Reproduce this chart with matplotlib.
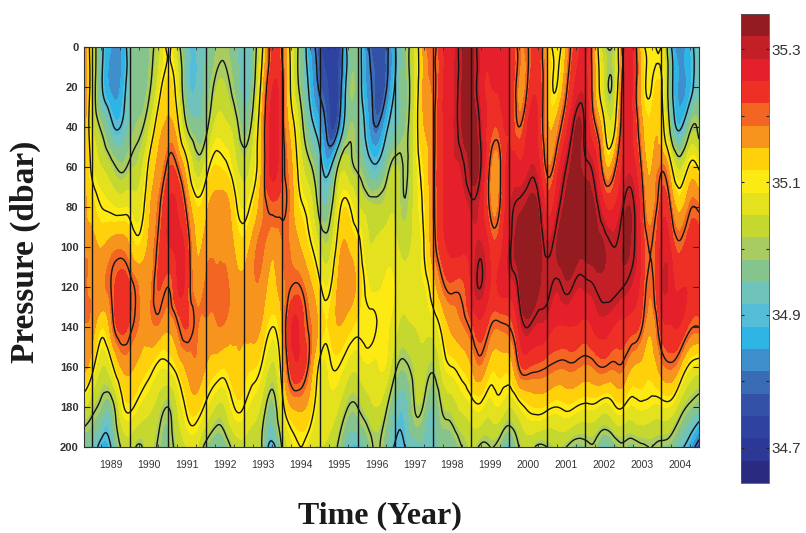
import matplotlib
matplotlib.use('Agg')
import matplotlib.pyplot as plt
import matplotlib.tri as mtri
import numpy as np
from matplotlib.ticker import MultipleLocator

pressure = [0, 20, 40, 60, 80, 100, 120, 140, 160, 180, 200]
times = np.arange(1988.75, 2005.01, 0.25)
year_lines = list(range(1989, 2005))
year_labels = [str(y) for y in year_lines]
contour_values = [34.8, 34.9, 35.0, 35.1, 35.2, 35.3]
cbar_ticks = [34.7, 34.8, 34.9, 35.0, 35.1, 35.2, 35.3]
cbar_labels = ['34.7', '', '34.9', '', '35.1', '', '35.3']

# one profile per quarter year, surface to 200 dbar
profiles = [
    [35.22, 35.22, 35.21, 35.19, 35.17, 35.17, 35.19, 35.18, 35.16, 35.06, 34.95],
    [35.06, 35.06, 35.06, 35.09, 35.13, 35.17, 35.18, 35.17, 35.12, 35.02, 34.94],
    [34.92, 34.91, 34.99, 35.05, 35.10, 35.15, 35.18, 35.12, 35.05, 34.98, 34.87],
    [34.85, 34.84, 34.92, 35.02, 35.09, 35.17, 35.20, 35.17, 35.08, 34.97, 34.90],
    [34.84, 34.85, 34.90, 34.99, 35.08, 35.18, 35.24, 35.23, 35.15, 35.07, 35.00],
    [34.94, 34.94, 34.96, 35.01, 35.08, 35.15, 35.22, 35.21, 35.16, 35.11, 35.03],
    [34.97, 34.97, 34.99, 35.03, 35.07, 35.12, 35.18, 35.18, 35.14, 35.08, 34.99],
    [34.98, 34.99, 35.04, 35.11, 35.14, 35.16, 35.17, 35.17, 35.12, 35.06, 35.03],
    [35.03, 35.07, 35.13, 35.16, 35.19, 35.21, 35.22, 35.18, 35.09, 35.03, 34.99],
    [35.11, 35.13, 35.16, 35.21, 35.25, 35.25, 35.20, 35.16, 35.09, 35.00, 34.97],
    [35.03, 35.07, 35.12, 35.20, 35.25, 35.26, 35.25, 35.19, 35.12, 35.05, 35.02],
    [34.93, 34.94, 35.00, 35.12, 35.19, 35.23, 35.23, 35.22, 35.16, 35.11, 35.05],
    [34.92, 34.92, 34.96, 35.03, 35.12, 35.15, 35.17, 35.19, 35.18, 35.13, 35.06],
    [34.95, 34.96, 34.98, 35.07, 35.14, 35.17, 35.19, 35.18, 35.15, 35.09, 34.98],
    [34.98, 35.01, 35.06, 35.12, 35.17, 35.18, 35.19, 35.18, 35.13, 35.05, 34.95],
    [34.99, 35.02, 35.06, 35.11, 35.17, 35.18, 35.19, 35.18, 35.12, 35.05, 34.96],
    [34.96, 34.98, 35.03, 35.07, 35.12, 35.15, 35.17, 35.16, 35.14, 35.10, 35.02],
    [34.92, 34.93, 34.97, 35.03, 35.08, 35.13, 35.16, 35.16, 35.13, 35.10, 35.04],
    [34.96, 34.98, 35.03, 35.07, 35.12, 35.17, 35.18, 35.17, 35.12, 35.07, 35.03],
    [35.10, 35.14, 35.17, 35.17, 35.18, 35.19, 35.17, 35.14, 35.09, 35.03, 34.99],
    [35.23, 35.25, 35.27, 35.27, 35.21, 35.16, 35.14, 35.10, 35.04, 34.97, 34.87],
    [35.20, 35.22, 35.22, 35.22, 35.21, 35.18, 35.17, 35.15, 35.12, 35.07, 35.00],
    [35.08, 35.09, 35.13, 35.16, 35.17, 35.18, 35.20, 35.25, 35.23, 35.15, 35.07],
    [34.97, 34.98, 35.03, 35.07, 35.11, 35.15, 35.20, 35.24, 35.24, 35.16, 35.10],
    [34.85, 34.88, 34.93, 35.01, 35.07, 35.11, 35.16, 35.19, 35.18, 35.13, 35.06],
    [34.76, 34.79, 34.86, 34.93, 34.98, 35.05, 35.11, 35.14, 35.09, 35.07, 35.05],
    [34.72, 34.74, 34.76, 34.88, 34.97, 35.03, 35.09, 35.12, 35.09, 35.07, 35.04],
    [34.72, 34.75, 34.80, 35.01, 35.08, 35.13, 35.16, 35.15, 35.10, 35.05, 34.99],
    [34.94, 34.95, 34.97, 35.03, 35.11, 35.15, 35.17, 35.13, 35.07, 35.00, 34.92],
    [34.95, 34.95, 34.96, 34.99, 35.06, 35.12, 35.14, 35.11, 35.06, 35.00, 34.91],
    [34.82, 34.84, 34.87, 34.94, 35.03, 35.06, 35.09, 35.11, 35.08, 35.03, 34.96],
    [34.75, 34.77, 34.80, 34.91, 35.02, 35.06, 35.08, 35.10, 35.08, 35.05, 35.01],
    [34.78, 34.79, 34.88, 34.97, 35.03, 35.07, 35.09, 35.09, 35.08, 35.01, 34.96],
    [34.90, 34.91, 34.94, 35.02, 35.04, 35.06, 35.08, 35.06, 35.01, 34.94, 34.89],
    [34.97, 34.97, 34.98, 34.995, 35.005, 35.04, 35.06, 35.04, 34.99, 34.93, 34.90],
    [35.05, 35.05, 35.06, 35.06, 35.06, 35.06, 35.07, 35.05, 35.02, 35.00, 34.93],
    [35.17, 35.16, 35.15, 35.12, 35.11, 35.10, 35.08, 35.06, 35.03, 34.99, 34.94],
    [35.19, 35.19, 35.19, 35.19, 35.19, 35.18, 35.13, 35.07, 35.01, 34.95, 34.92],
    [35.25, 35.25, 35.25, 35.25, 35.25, 35.24, 35.19, 35.12, 35.07, 35.01, 34.96],
    [35.27, 35.28, 35.28, 35.28, 35.27, 35.26, 35.21, 35.16, 35.10, 35.03, 34.95],
    [35.32, 35.32, 35.32, 35.29, 35.27, 35.26, 35.21, 35.18, 35.12, 35.06, 35.00],
    [35.33, 35.33, 35.34, 35.33, 35.29, 35.27, 35.26, 35.21, 35.15, 35.08, 35.02],
    [35.27, 35.27, 35.29, 35.30, 35.27, 35.29, 35.30, 35.24, 35.18, 35.09, 34.99],
    [35.27, 35.25, 35.23, 35.19, 35.19, 35.24, 35.25, 35.20, 35.13, 35.07, 35.00],
    [35.28, 35.26, 35.23, 35.19, 35.20, 35.24, 35.26, 35.19, 35.13, 35.08, 34.97],
    [35.25, 35.25, 35.25, 35.27, 35.28, 35.29, 35.27, 35.20, 35.13, 35.05, 34.93],
    [35.19, 35.18, 35.20, 35.26, 35.31, 35.34, 35.31, 35.26, 35.20, 35.08, 35.00],
    [35.20, 35.21, 35.26, 35.28, 35.33, 35.37, 35.38, 35.30, 35.22, 35.11, 35.03],
    [35.24, 35.24, 35.25, 35.27, 35.32, 35.35, 35.33, 35.28, 35.21, 35.12, 34.99],
    [35.14, 35.15, 35.16, 35.19, 35.24, 35.29, 35.31, 35.27, 35.20, 35.11, 35.00],
    [35.08, 35.10, 35.17, 35.23, 35.28, 35.32, 35.29, 35.25, 35.19, 35.10, 35.02],
    [35.16, 35.19, 35.24, 35.30, 35.33, 35.35, 35.31, 35.25, 35.19, 35.11, 35.00],
    [35.23, 35.26, 35.32, 35.33, 35.34, 35.34, 35.29, 35.25, 35.19, 35.10, 34.97],
    [35.27, 35.27, 35.29, 35.31, 35.33, 35.33, 35.29, 35.24, 35.18, 35.09, 34.98],
    [35.15, 35.16, 35.21, 35.28, 35.32, 35.33, 35.30, 35.26, 35.19, 35.09, 34.99],
    [35.02, 35.04, 35.11, 35.17, 35.26, 35.32, 35.31, 35.27, 35.20, 35.07, 34.93],
    [35.01, 35.02, 35.08, 35.18, 35.25, 35.30, 35.31, 35.25, 35.19, 35.09, 34.96],
    [35.23, 35.23, 35.24, 35.26, 35.30, 35.32, 35.30, 35.24, 35.19, 35.10, 34.99],
    [35.25, 35.25, 35.25, 35.27, 35.31, 35.31, 35.28, 35.23, 35.15, 35.08, 34.97],
    [35.12, 35.13, 35.16, 35.19, 35.22, 35.24, 35.23, 35.20, 35.14, 35.09, 34.99],
    [35.09, 35.10, 35.13, 35.15, 35.17, 35.20, 35.19, 35.16, 35.13, 35.08, 35.00],
    [35.10, 35.11, 35.13, 35.19, 35.23, 35.26, 35.27, 35.23, 35.17, 35.08, 34.98],
    [34.92, 34.94, 34.98, 35.12, 35.20, 35.25, 35.27, 35.25, 35.19, 35.08, 34.97],
    [34.82, 34.84, 34.89, 35.04, 35.14, 35.21, 35.25, 35.25, 35.15, 35.03, 34.92],
    [34.88, 34.87, 34.98, 35.11, 35.19, 35.24, 35.25, 35.21, 35.09, 34.99, 34.86],
    [34.93, 34.94, 34.98, 35.09, 35.19, 35.23, 35.24, 35.20, 35.07, 34.96, 34.75],
]

band_colors = ['#2a2a80', '#2c3895', '#2e42a0', '#3451a8', '#3a6cb6', '#3f8fcd', '#2fb4e6',
               '#55bdd8', '#6fc3ba', '#86c48e', '#a9cc62', '#c5d830', '#e4e11f', '#fdea12',
               '#ffd10a', '#f7941d', '#f26522', '#ee2f26', '#e5202a', '#c21f26', '#941c20']

serif = ['Liberation Serif', 'DejaVu Serif']
sans = ['Liberation Sans', 'DejaVu Sans']
W, H = 806, 533

levels = np.linspace(34.647, 35.353, len(band_colors) + 1)
salinity = np.array(profiles)

# triangulate the grid so the contours can be drawn smooth instead of angular
nt, np_ = salinity.shape
tt, pp = np.meshgrid(times, pressure, indexing='ij')
triangles = []
for i in range(nt - 1):
    for j in range(np_ - 1):
        a = i * np_ + j
        b = (i + 1) * np_ + j
        triangles.append([a, b, a + 1])
        triangles.append([b, b + 1, a + 1])
grid = mtri.Triangulation(tt.ravel(), pp.ravel(), triangles)
fine, fine_sal = mtri.UniformTriRefiner(grid).refine_field(salinity.ravel(), subdiv=3)

fig = plt.figure(figsize=(W / 100, H / 100), dpi=100)
ax = fig.add_axes([84 / W, 1 - 447 / H, 615 / W, 400 / H])
cf = ax.tricontourf(fine, np.clip(fine_sal, levels[0], levels[-1] - 0.001), levels=levels,
                    colors=band_colors)
ax.tricontour(fine, fine_sal, levels=contour_values, colors='#141414', linewidths=1.0)
for y in year_lines:
    ax.axvline(y, color='#141414', lw=1.0)

ax.set_xlim(1988.79, 2005.0)
ax.set_ylim(200, 0)
ax.set_yticks(pressure)
ax.set_xticks([y + 0.5 for y in year_lines])
ax.set_xticklabels(year_labels, family=sans, fontsize=7.5, color='#333333')
ax.xaxis.set_minor_locator(MultipleLocator(0.25))
ax.tick_params(axis='x', which='major', length=0, pad=9)
ax.tick_params(axis='x', which='minor', direction='in', length=2, top=True, color='#333333')
ax.tick_params(axis='y', direction='in', length=4, right=True, labelsize=8, pad=4, color='#222222')
for lab in ax.get_yticklabels():
    lab.set_family(sans)
    lab.set_fontweight('bold')
    lab.set_color('#333333')
for s in ax.spines.values():
    s.set_color('#333333')

fig.text(25 / W, 1 - 252 / H, 'Pressure (dbar)', family=serif, fontweight='bold', fontsize=24,
         rotation=90, ha='center', va='center', color='#1a1a1a')
fig.text(380 / W, 1 - 516 / H, 'Time (Year)', family=serif, fontweight='bold', fontsize=23,
         ha='center', va='center', color='#1a1a1a')

cax = fig.add_axes([741 / W, 1 - 483 / H, 28 / W, 469 / H])
cb = fig.colorbar(cf, cax=cax, ticks=cbar_ticks)
cb.ax.set_yticklabels(cbar_labels, family=sans, fontsize=11, color='#333333')
cb.ax.tick_params(direction='in', length=2, pad=2, color='#222222', left=True, right=True)
cb.outline.set_edgecolor('#555555')
cb.outline.set_linewidth(0.6)

fig.savefig('out.png', dpi=100)
plt.close(fig)
